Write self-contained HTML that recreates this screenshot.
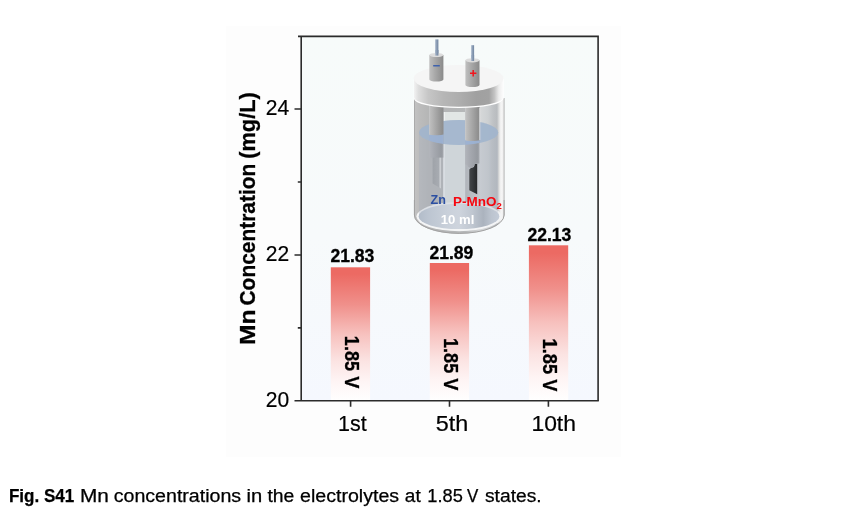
<!DOCTYPE html>
<html lang="en">
<head>
<meta charset="utf-8">
<title>Fig. S41</title>
<style>
  html, body { margin: 0; padding: 0; background: #ffffff; }
  body { width: 846px; height: 513px; position: relative; overflow: hidden;
         font-family: "Liberation Sans", sans-serif; color: #000; }
  #figbox { position: absolute; left: 226px; top: 26.3px; width: 394.6px; height: 430.5px; background: #fdfdfd; }
  #chart { position: absolute; left: 0; top: 0; width: 846px; height: 513px; }
  #chart text { font-family: "Liberation Sans", sans-serif; }
  .tick { font-size: 22px; fill: #000; stroke: #000; stroke-width: 0.2px; }
  .val { font-size: 17.6px; font-weight: bold; fill: #000; stroke: #000; stroke-width: 0.3px; }
  .volt { font-size: 19.6px; font-weight: bold; fill: #000; stroke: #000; stroke-width: 0.3px; }
  .ylab { font-size: 21.6px; font-weight: bold; fill: #000; stroke: #000; stroke-width: 0.3px; }
</style>
</head>
<body>
<div id="figbox"></div>
<svg id="chart" width="846" height="513" viewBox="0 0 846 513">
  <defs>
    <linearGradient id="plotbg" x1="0" y1="0" x2="0" y2="1">
      <stop offset="0" stop-color="#f7fbfa"/>
      <stop offset="0.55" stop-color="#f7fafb"/>
      <stop offset="1" stop-color="#f5f8fe"/>
    </linearGradient>
    <linearGradient id="barg" x1="0" y1="0" x2="0" y2="1">
      <stop offset="0" stop-color="#ec6a63"/>
      <stop offset="0.05" stop-color="#ec6a63"/>
      <stop offset="0.28" stop-color="#f0908b"/>
      <stop offset="0.5" stop-color="#f7c1be"/>
      <stop offset="0.7" stop-color="#fbe3e2"/>
      <stop offset="0.85" stop-color="#fef4f4"/>
      <stop offset="1" stop-color="#ffffff"/>
    </linearGradient>

    <linearGradient id="jarg" x1="0" y1="0" x2="1" y2="0">
      <stop offset="0" stop-color="#999999"/>
      <stop offset="0.013" stop-color="#c1c1c1"/>
      <stop offset="0.06" stop-color="#bcbcbc"/>
      <stop offset="0.16" stop-color="#b5b6b6"/>
      <stop offset="0.33" stop-color="#b4b5b6"/>
      <stop offset="0.57" stop-color="#b6b8b9"/>
      <stop offset="0.72" stop-color="#d2d4d5"/>
      <stop offset="0.729" stop-color="#d6d8d9"/>
      <stop offset="0.818" stop-color="#cdd0d2"/>
      <stop offset="0.873" stop-color="#bfc2c5"/>
      <stop offset="0.917" stop-color="#b9bcbf"/>
      <stop offset="0.939" stop-color="#dcdddd"/>
      <stop offset="0.961" stop-color="#f6f6f6"/>
      <stop offset="0.983" stop-color="#f0f0f0"/>
      <stop offset="1" stop-color="#a8a8a8"/>
    </linearGradient>
    <linearGradient id="lidg" x1="0" y1="0" x2="1" y2="0">
      <stop offset="0" stop-color="#f2f2f2"/>
      <stop offset="0.05" stop-color="#dedede"/>
      <stop offset="0.16" stop-color="#c6c6c6"/>
      <stop offset="0.33" stop-color="#b6b6b6"/>
      <stop offset="0.52" stop-color="#adadad"/>
      <stop offset="0.70" stop-color="#a0a0a0"/>
      <stop offset="0.84" stop-color="#a2a2a2"/>
      <stop offset="0.90" stop-color="#c2c2c2"/>
      <stop offset="0.95" stop-color="#ededed"/>
      <stop offset="1" stop-color="#fdfdfd"/>
    </linearGradient>
    <linearGradient id="holdg" x1="0" y1="0" x2="1" y2="0">
      <stop offset="0" stop-color="#cfcfcf"/>
      <stop offset="0.1" stop-color="#bdbdbd"/>
      <stop offset="0.45" stop-color="#a9a9a9"/>
      <stop offset="0.85" stop-color="#929292"/>
      <stop offset="1" stop-color="#8c8c8c"/>
    </linearGradient>
    <linearGradient id="holdsub" x1="0" y1="0" x2="1" y2="0">
      <stop offset="0" stop-color="#b2b5bb"/>
      <stop offset="0.3" stop-color="#a7aab1"/>
      <stop offset="0.85" stop-color="#969aa0"/>
      <stop offset="1" stop-color="#a4a7ad"/>
    </linearGradient>
    <linearGradient id="holdg2" x1="0" y1="0" x2="1" y2="0">
      <stop offset="0" stop-color="#c0c0c0"/>
      <stop offset="0.4" stop-color="#a9a9a9"/>
      <stop offset="1" stop-color="#8a8a8a"/>
    </linearGradient>
    <linearGradient id="wireg" x1="0" y1="0" x2="1" y2="0">
      <stop offset="0" stop-color="#a3b3c8"/>
      <stop offset="1" stop-color="#70849f"/>
    </linearGradient>
    <linearGradient id="zng" x1="0" y1="0" x2="1" y2="0">
      <stop offset="0" stop-color="#9fa3a9"/>
      <stop offset="0.75" stop-color="#a7abb1"/>
      <stop offset="0.88" stop-color="#cdd0d4"/>
      <stop offset="1" stop-color="#c9ccd0"/>
    </linearGradient>
    <linearGradient id="blkg" x1="0" y1="0" x2="1" y2="0">
      <stop offset="0" stop-color="#44474a"/>
      <stop offset="0.5" stop-color="#34373a"/>
      <stop offset="1" stop-color="#26282a"/>
    </linearGradient>
    <linearGradient id="botg" x1="0" y1="0" x2="1" y2="0">
      <stop offset="0" stop-color="#b2bcc9"/>
      <stop offset="0.12" stop-color="#bcc5d1"/>
      <stop offset="0.35" stop-color="#c9d0da"/>
      <stop offset="0.5" stop-color="#ced4dd"/>
      <stop offset="0.66" stop-color="#c0c7d1"/>
      <stop offset="0.80" stop-color="#abb3be"/>
      <stop offset="0.9" stop-color="#bcc4cf"/>
      <stop offset="1" stop-color="#c4ccd8"/>
    </linearGradient>
  </defs>

  <!-- plot area -->
  <rect x="301" y="36" width="297.5" height="365" fill="url(#plotbg)"/>

  <!-- bars -->
  <rect x="330.8" y="267.3" width="39.3" height="133.4" fill="url(#barg)"/>
  <rect x="429.8" y="263" width="39.3" height="137.8" fill="url(#barg)"/>
  <rect x="528.9" y="245.3" width="39.3" height="155.5" fill="url(#barg)"/>

  <!-- frame -->
  <g stroke="#2b2b2b" stroke-width="1.6" fill="none">
    <path d="M298 36.4 H598.1 V401"/>
    <path d="M301.2 36 V400.8"/>
    <path d="M294.5 400.8 H598.8"/>
    <!-- y ticks -->
    <path d="M294.5 109 H301 M297.8 182 H301 M294.5 255 H301 M297.8 327.9 H301"/>
    <!-- x ticks -->
    <path d="M350.6 401 V406.8 M449.5 401 V406.8 M548.4 401 V406.8"/>
  </g>

  <!-- y tick labels -->
  <text class="tick" x="265.8" y="115" textLength="23.4" lengthAdjust="spacingAndGlyphs">24</text>
  <text class="tick" x="265.8" y="260.8" textLength="23.4" lengthAdjust="spacingAndGlyphs">22</text>
  <text class="tick" x="265.8" y="406.8" textLength="23.4" lengthAdjust="spacingAndGlyphs">20</text>

  <!-- x tick labels -->
  <text class="tick" x="338" y="431" textLength="28.7" lengthAdjust="spacingAndGlyphs">1st</text>
  <text class="tick" x="435.7" y="431" textLength="32.5" lengthAdjust="spacingAndGlyphs">5th</text>
  <text class="tick" x="531.4" y="431" textLength="44.6" lengthAdjust="spacingAndGlyphs">10th</text>


  <!-- cell illustration -->
  <g id="cell">
    <!-- jar body -->
    <path d="M414 98 V215 A45.25 18.8 0 0 0 504.5 215 V98 Z" fill="url(#jarg)"/>
    <!-- light centre panel -->
    <rect x="443.4" y="112" width="21.8" height="100" fill="#e2e6e5"/>
    <rect x="443.3" y="112" width="1.6" height="100" fill="#f2f3f3"/>
    <!-- bottom rim + inner bottom -->
    <path d="M414.4 200 V215 A44.85 18.4 0 0 0 504.1 215 V200" fill="none" stroke="#a2a2a2" stroke-width="1"/>
    <ellipse cx="459.1" cy="216.6" rx="42.6" ry="14.6" fill="#f4f5f6"/>
    <path d="M415.6 213 A43.7 17.6 0 0 0 503 213 A43.7 14 0 0 1 415.6 213 Z" fill="#f4f5f6"/>
    <!-- liquid body tint -->
    <path d="M419 132.5 A39.6 12.4 0 0 1 498.2 132.5 V216 A39.6 12.7 0 0 1 419 216 Z" fill="#a4aebe" fill-opacity="0.31"/>
    <ellipse cx="459" cy="216.4" rx="40.4" ry="12.7" fill="url(#botg)"/>
    <!-- liquid surface -->
    <clipPath id="surf"><ellipse cx="458.6" cy="132.5" rx="39.6" ry="12.4"/></clipPath>
    <ellipse cx="458.6" cy="132.5" rx="39.6" ry="12.4" fill="#a1b5cd" fill-opacity="0.9"/>
    <!-- left holder (inside jar) + Zn strip -->
    <path d="M432.6 150 H441 V188.6 L432.6 183.4 Z" fill="url(#zng)"/>
    <rect x="429.2" y="98" width="14.2" height="59.6" fill="url(#holdsub)"/>
    <rect x="429.2" y="134" width="14.2" height="12" fill="#9bb2d5" fill-opacity="0.9" clip-path="url(#surf)"/>
    <path d="M429.2 98 H443.4 V134.6 A7.1 1 0 0 1 429.2 134 Z" fill="url(#holdg)"/>
    <!-- right holder (inside jar) + black electrode -->
    <path d="M469.3 169.4 L471 168 L474 167 L474.6 164 H477.2 V194.3 L469.3 190.2 Z" fill="url(#blkg)"/>
    <path d="M465.2 98 H479.4 V163.4 L474.8 164 C474.6 166 473.5 167.6 470.8 167.9 C468.5 167.8 467.6 166.5 467.2 164.8 L465.2 164.4 Z" fill="url(#holdsub)"/>
    <rect x="465.2" y="139" width="14.2" height="8" fill="#9bb2d5" fill-opacity="0.9" clip-path="url(#surf)"/>
    <path d="M465.2 98 H479.4 V140.2 A7.1 0.9 0 0 1 465.2 140 Z" fill="url(#holdg)"/>
    <rect x="479.3" y="108" width="1" height="32" fill="#e2e2e2" fill-opacity="0.8"/>
    <!-- lid -->
    <path d="M413.8 78.5 V98.5 A44.85 9.5 0 0 0 503.5 98.5 V78.5 Z" fill="#ffffff"/>
    <path d="M414 78.5 V97.5 A44.65 9.3 0 0 0 503.3 97.5 V78.5 Z" fill="url(#lidg)"/>
    <ellipse cx="458.6" cy="78.5" rx="44.9" ry="13.5" fill="#f5f5f5"/>
    <!-- left terminal -->
    <rect x="435.2" y="39.4" width="3.2" height="16" fill="url(#wireg)"/>
    <path d="M429.3 55 V79.6 A7.05 2 0 0 0 443.4 79.6 V55 Z" fill="url(#holdg2)"/>
    <ellipse cx="436.35" cy="55" rx="7.05" ry="2.1" fill="#dcdcdc"/>
    <rect x="435.2" y="50" width="3.2" height="5.6" fill="url(#wireg)"/>
    <rect x="433.2" y="65" width="6.6" height="1.5" fill="#3f62ad"/>
    <!-- right terminal -->
    <rect x="471.2" y="45.2" width="2.9" height="16" fill="url(#wireg)"/>
    <path d="M465.4 60.3 V85 A7.05 2 0 0 0 479.5 85 V60.3 Z" fill="url(#holdg2)"/>
    <ellipse cx="472.45" cy="60.3" rx="7.05" ry="2.1" fill="#dcdcdc"/>
    <rect x="471.2" y="55" width="2.9" height="6" fill="url(#wireg)"/>
    <path d="M470 73.3 H476.4 M473.2 70.1 V76.5" stroke="#f0141c" stroke-width="1.5" fill="none"/>
    <!-- labels -->
    <text x="430.6" y="204" font-size="12.8" font-weight="bold" fill="#2b4fa2" textLength="15.4" lengthAdjust="spacingAndGlyphs">Zn</text>
    <text x="453.1" y="206" font-size="13.2" font-weight="bold" fill="#f6060f" textLength="48.8" lengthAdjust="spacingAndGlyphs">P-MnO<tspan font-size="9.4" dy="3.4">2</tspan></text>
    <text x="440.7" y="223.9" font-size="13.2" font-weight="bold" fill="#ffffff" textLength="33.6" lengthAdjust="spacingAndGlyphs">10 ml</text>
  </g>

  <!-- values -->
  <text class="val" x="330.4" y="261.7" textLength="44" lengthAdjust="spacingAndGlyphs">21.83</text>
  <text class="val" x="429.4" y="258.7" textLength="44" lengthAdjust="spacingAndGlyphs">21.89</text>
  <text class="val" x="527.4" y="240.8" textLength="44" lengthAdjust="spacingAndGlyphs">22.13</text>

  <!-- rotated voltage labels -->
  <text class="volt" transform="translate(345.2 335.8) rotate(90)" textLength="52.5" lengthAdjust="spacingAndGlyphs">1.85 V</text>
  <text class="volt" transform="translate(443.8 337.9) rotate(90)" textLength="52.5" lengthAdjust="spacingAndGlyphs">1.85 V</text>
  <text class="volt" transform="translate(543.4 338.6) rotate(90)" textLength="52.7" lengthAdjust="spacingAndGlyphs">1.85 V</text>

  <!-- y axis label -->
  <text class="ylab" transform="translate(254.9 344.6) rotate(-90)"><tspan x="-0.5" textLength="35.7" lengthAdjust="spacingAndGlyphs">Mn</tspan> <tspan x="39.1" textLength="141.8" lengthAdjust="spacingAndGlyphs">Concentration</tspan> <tspan x="185.8" textLength="66.6" lengthAdjust="spacingAndGlyphs">(mg/L)</tspan></text>
</svg>
<svg id="capsvg" width="846" height="40" viewBox="0 0 846 40" style="position:absolute;left:0;top:473px;">
  <text y="28.6" font-family="'Liberation Sans', sans-serif" font-size="17.5" fill="#000" stroke="#000" stroke-width="0.25"><tspan id="w0" font-weight="bold" x="8.9" textLength="65.4" lengthAdjust="spacingAndGlyphs">Fig. S41</tspan> <tspan id="w1" x="80.0" textLength="28.9" lengthAdjust="spacingAndGlyphs">Mn</tspan> <tspan id="w2" x="113.7" textLength="127.5" lengthAdjust="spacingAndGlyphs">concentrations</tspan> <tspan id="w3" x="246.5" textLength="15.7" lengthAdjust="spacingAndGlyphs">in</tspan> <tspan id="w4" x="267.4" textLength="26.9" lengthAdjust="spacingAndGlyphs">the</tspan> <tspan id="w5" x="300.0" textLength="99.1" lengthAdjust="spacingAndGlyphs">electrolytes</tspan> <tspan id="w6" x="404.8" textLength="15.9" lengthAdjust="spacingAndGlyphs">at</tspan> <tspan id="w7" x="427.3" textLength="35.5" lengthAdjust="spacingAndGlyphs">1.85</tspan> <tspan id="w8" x="466.9" textLength="11.3" lengthAdjust="spacingAndGlyphs">V</tspan> <tspan id="w9" x="485.0" textLength="56.6" lengthAdjust="spacingAndGlyphs">states.</tspan></text>
</svg>
</body>
</html>
